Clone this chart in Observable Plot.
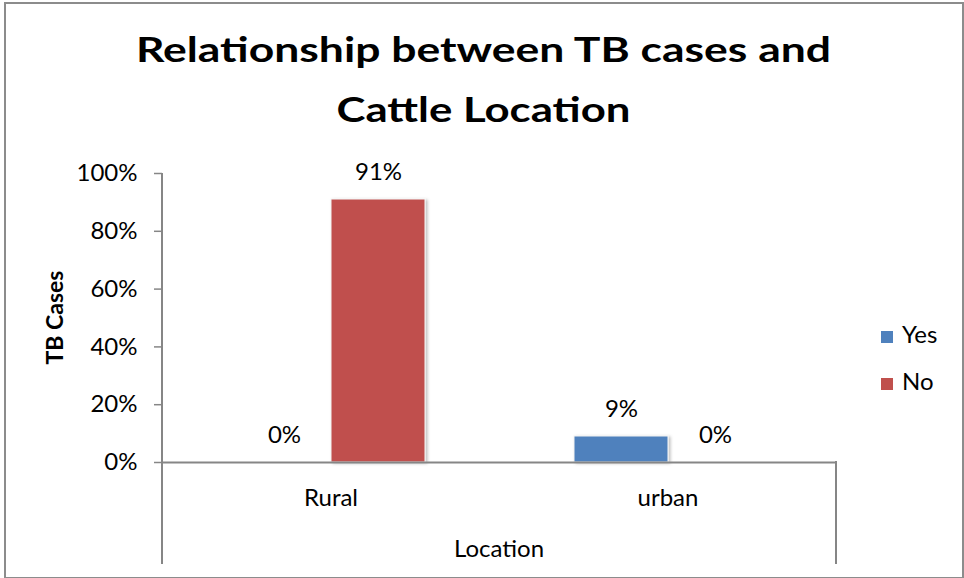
<!DOCTYPE html>
<html>
<head>
<meta charset="utf-8">
<script src="https://cdn.jsdelivr.net/npm/d3@7"></script>
<script src="https://cdn.jsdelivr.net/npm/@observablehq/plot@0.6"></script>
<style>
  html, body { margin: 0; padding: 0; background: #fff; }
  #wrap { position: relative; width: 964px; height: 578px; }
  #border { position: absolute; left: 4px; top: 2px; width: 956px; height: 573px; border: 2px solid #8c8c8c; box-sizing: content-box; pointer-events: none; }
  svg { font-family: Lato, "Open Sans", sans-serif; }
</style>
</head>
<body>
<div id="wrap"><div id="border"></div></div>
<script>
const titleLines = ["Relationship between TB cases and", "Cattle Location"];
const locations = ["Rural", "urban"];
const series = ["Yes", "No"];
const yesValues = [0, 0.09];
const noValues = [0.91, 0];
const yTicks = [0, 0.2, 0.4, 0.6, 0.8, 1];
const seriesColors = ["#4F81BD", "#C0504D"];
const yLabel = "TB Cases";
const xLabel = "Location";

const rows = [];
locations.forEach((loc, i) => {
  rows.push({loc, series: "Yes", value: yesValues[i]});
  rows.push({loc, series: "No", value: noValues[i]});
});

const W = 964, H = 578;
const FS = 24;
const fmt = d3.format(".0%");

const plot = Plot.plot({
  width: W,
  height: H,
  marginLeft: 162,
  marginRight: 128,
  marginTop: 173,
  marginBottom: 116,
  style: {fontFamily: "Lato, 'Open Sans', sans-serif", fontSize: FS + "px", color: "#000", background: "#fff"},
  fx: {domain: locations, padding: 0, label: null},
  x: {domain: series, paddingInner: 0, paddingOuter: 0.774, axis: null},
  y: {domain: [0, 1], label: null},
  color: {domain: series, range: seriesColors},
  marks: [
    Plot.axisY({ticks: yTicks, tickFormat: fmt, tickSize: 8, tickPadding: 17, fontSize: FS, stroke: "#868686", strokeOpacity: 1, strokeWidth: 1.5, label: null}),
    Plot.axisFx({anchor: "bottom", tickSize: 0, tickPadding: 26, fontSize: FS, label: null}),
    Plot.barY(rows, {fx: "loc", x: "series", y: "value", fill: "series", stroke: "#f4f4f4", strokeWidth: 1}),
    Plot.ruleY([0], {stroke: "#868686", strokeWidth: 2}),
    Plot.text(rows, {fx: "loc", x: "series", y: "value", text: d => fmt(d.value), dy: -27, lineAnchor: "middle", fontSize: FS, fill: "#000"})
  ]
});

document.getElementById("wrap").prepend(plot);

const svg = d3.select(plot);

// soft shadow on the bars, like the original
const defs = svg.insert("defs", ":first-child");
const flt = defs.append("filter").attr("id", "barShadow").attr("x", "-10%").attr("y", "-10%").attr("width", "130%").attr("height", "130%");
flt.append("feDropShadow").attr("dx", 2).attr("dy", 1).attr("stdDeviation", 1.8)
  .attr("flood-color", "#000").attr("flood-opacity", 0.25);
svg.selectAll("g[aria-label='bar'] rect").attr("filter", "url(#barShadow)");

const fxS = plot.scale("fx");
const yS = plot.scale("y");
const left = fxS.apply(locations[0]);
const right = fxS.apply(locations[locations.length - 1]) + fxS.bandwidth;
const y0 = yS.apply(0), y1 = yS.apply(1);
const bottom = H - 14;

const g = svg.append("g").attr("stroke", "#868686").attr("stroke-width", 2);
g.append("line").attr("x1", left).attr("x2", left).attr("y1", y1).attr("y2", bottom);
g.append("line").attr("x1", right).attr("x2", right).attr("y1", y0 - 1).attr("y2", bottom);

// title
const titleSpecs = [{y: 62, len: 695}, {y: 122, len: 294}];
titleLines.forEach((t, i) => {
  svg.append("text").attr("x", 483.5).attr("y", titleSpecs[i].y).attr("text-anchor", "middle")
    .attr("font-size", 35).attr("font-weight", "bold").attr("fill", "#000")
    .attr("textLength", titleSpecs[i].len).attr("lengthAdjust", "spacingAndGlyphs").text(t);
});

// axis titles
svg.append("text").attr("transform", `translate(63,${(y0 + y1) / 2}) rotate(-90)`).attr("text-anchor", "middle")
  .attr("font-size", 23).attr("font-weight", "bold").attr("fill", "#000").text(yLabel);
svg.append("text").attr("x", (left + right) / 2).attr("y", 557).attr("text-anchor", "middle")
  .attr("font-size", FS).attr("fill", "#000").text(xLabel);

// legend
series.forEach((s, i) => {
  const ly = 331 + i * 47;
  svg.append("rect").attr("x", 881).attr("y", ly).attr("width", 12).attr("height", 12).attr("fill", seriesColors[i]);
  svg.append("text").attr("x", 902).attr("y", ly + 12).attr("text-anchor", "start")
    .attr("font-size", FS).attr("fill", "#000").text(s);
});
</script>
</body>
</html>
